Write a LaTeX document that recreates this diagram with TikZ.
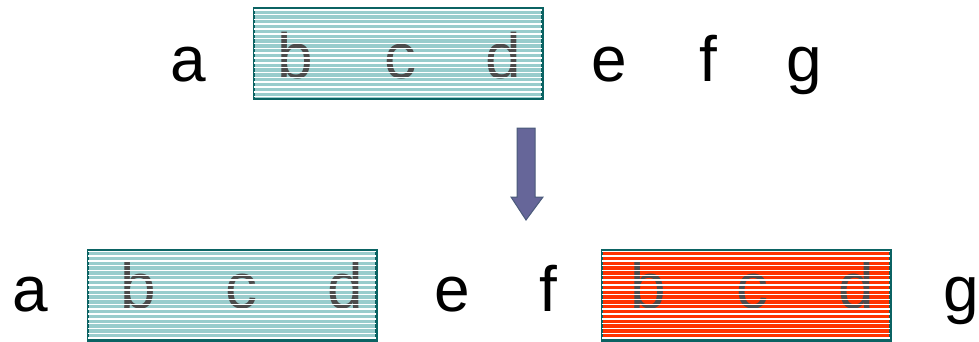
\documentclass[tikz,border=0pt]{standalone}
\usepackage{fontspec}
\setmainfont{Liberation Sans}
\usetikzlibrary{calc}
\definecolor{tealfill}{HTML}{99CCCC}
\definecolor{redfill}{HTML}{FF3300}
\definecolor{boxborder}{HTML}{0B6363}
\definecolor{arrowfill}{HTML}{666699}
\definecolor{arrowline}{HTML}{4A5A7A}
\tikzset{
  letter/.style={anchor=base, inner sep=0pt, font=\fontsize{64}{70}\selectfont},
  boxletter/.style={letter, text=black!70},
  seqbox/.style={draw=boxborder, line width=1.5pt, minimum width=288pt, minimum height=90pt, inner sep=0pt},
  stripe/.style={white, line width=1.5pt},
}
\newcommand{\stripes}[1]{%
  \begin{scope}
    \clip (#1.south west) rectangle (#1.north east);
    \foreach \i in {0,...,19}
      \draw[stripe] ($(#1.north west)+(-2,2+\i*4.83)$) -- ++(300,0);
  \end{scope}
  \draw[draw=boxborder, line width=1.5pt] (#1.south west) rectangle (#1.north east);
}
\begin{document}
\begin{tikzpicture}[x=1pt,y=-1pt]
\useasboundingbox (0,0) rectangle (979,341);
% top row
\node[seqbox, fill=tealfill] (topbox) at (398,53.5) {};
\node[letter] (ta) at (188,81) {a};
\node[boxletter] (tb) at (295,78) {b};
\node[boxletter] (tc) at (400,78) {c};
\node[boxletter] (td) at (503,78) {d};
\node[letter] (te) at (609,81) {e};
\node[letter] (tf) at (708,81) {f};
\node[letter] (tg) at (804,81) {g};
\stripes{topbox}
% arrow
\draw[fill=arrowfill, draw=arrowline, line width=1pt]
  (517,128) -- (535,128) -- (535,197) -- (543,197) -- (526,220) -- (511,197) -- (517,197) -- cycle;
% bottom row
\node[seqbox, fill=tealfill] (lbox) at (232,295) {};
\node[seqbox, fill=redfill] (rbox) at (746,295) {};
\node[letter] (ba) at (30,311) {a};
\node[boxletter] (bb) at (138,308) {b};
\node[boxletter] (bc) at (241,308) {c};
\node[boxletter] (bd) at (345,308) {d};
\node[letter] (be) at (452,311) {e};
\node[letter] (bf) at (548,311) {f};
\node[boxletter] (rb) at (648,308) {b};
\node[boxletter] (rc) at (752,308) {c};
\node[boxletter] (rd) at (856,308) {d};
\node[letter] (bg) at (961,311) {g};
\stripes{lbox}
\stripes{rbox}
\end{tikzpicture}
\end{document}
